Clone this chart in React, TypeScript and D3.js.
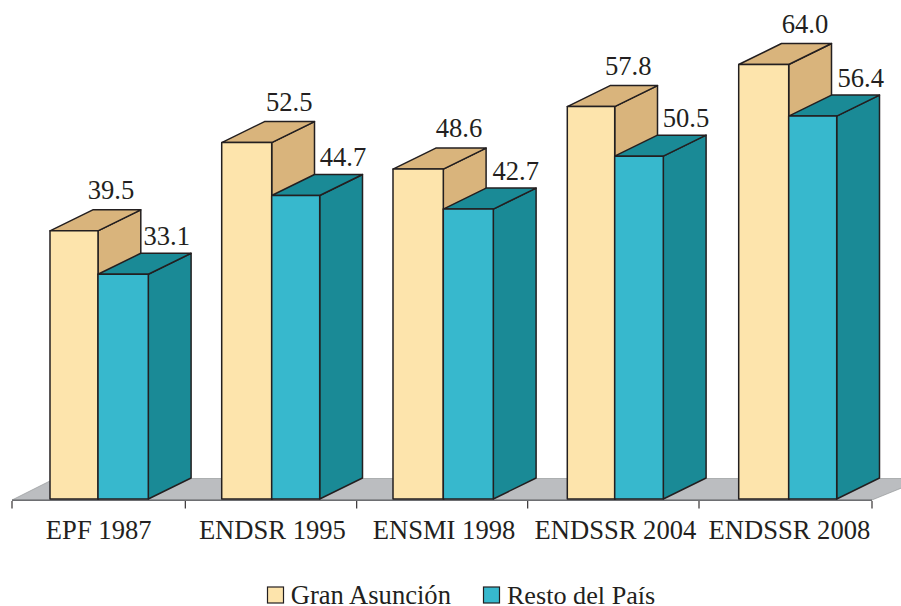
import React from "react";
import * as d3 from "d3";

const categories = ["EPF 1987", "ENDSR 1995", "ENSMI 1998", "ENDSSR 2004", "ENDSSR 2008"];
const granAsuncion = [39.5, 52.5, 48.6, 57.8, 64.0];
const restoDelPais = [33.1, 44.7, 42.7, 50.5, 56.4];
const seriesNames = ["Gran Asunción", "Resto del País"];

const INK = "#231f20";
const FONT = "'Liberation Serif', 'Times New Roman', serif";
const CREAM = { front: "#fde4ac", side: "#d9b47c" };
const TEAL = { front: "#37b8cd", side: "#1a8a96" };

const BASE_Y = 499;
const DX = 42.8;
const DY = 21;
const FONT_SIZE = 26.6;

// Per-group drawing adjustments (pixels) around the regular band layout.
const groupShift = [0, -0.3, -1, 1.3, 0.7];
const creamWidth = [48, 50, 50.3, 47.4, 50];
const blueWidth = [50.3, 48, 50, 48.6, 48];
const creamLabelDx = [13, 17.6, 15.7, 13.6, 16.3];
const blueLabelDx = [18.4, 23.3, 22.4, 22.7, 24];
const tickEdges = [12, 185.3, 356.7, 527.7, 699, 872];

const x = d3.scaleBand<string>().domain(categories).range([12, 872]);
const y = d3.scaleLinear().domain([0, 64]).range([BASE_Y, 64.5]);

type Faces = { front: string; side: string };

// One extruded bar: right face, lid, then the front rectangle.
function Box({ left, width, value, fill }: { left: number; width: number; value: number; fill: Faces }) {
  const top = y(value);
  const right = left + width;
  const line = d3.line();
  const side = line([[right, top], [right + DX, top - DY], [right + DX, BASE_Y - DY], [right, BASE_Y]]) + "Z";
  const lid = line([[left, top], [left + DX, top - DY], [right + DX, top - DY], [right, top]]) + "Z";
  return (
    <g stroke={INK} strokeWidth={1.5} strokeLinejoin="round">
      <path d={side} fill={fill.side} />
      <path d={lid} fill={fill.side} />
      <rect x={left} y={top} width={width} height={BASE_Y - top} fill={fill.front} />
    </g>
  );
}

export default function App() {
  const floor = d3.line()([[12, BASE_Y + 1], [12 + DX, BASE_Y - DY + 0.5], [925, BASE_Y - DY + 0.5], [872, BASE_Y + 1]]) + "Z";
  return (
    <svg width={901} height={606} style={{ position: "absolute", left: 0, top: 0, background: "#fff" }} fontFamily={FONT} fill={INK}>
      <path d={floor} fill="#bbbdc0" stroke="#8c8e91" strokeWidth={0.6} />
      <line x1={12} x2={872} y1={BASE_Y + 1.2} y2={BASE_Y + 1.2} stroke="#6d6e71" strokeWidth={1.4} />
      {tickEdges.map((t) => (
        <line key={t} x1={t} x2={t} y1={BASE_Y + 2} y2={BASE_Y + 9.5} stroke={INK} strokeWidth={1.1} />
      ))}
      {categories.map((c, i) => {
        const left = (x(c) as number) + 38 + groupShift[i];
        const mid = left + creamWidth[i];
        const right = mid + blueWidth[i];
        return (
          <g key={c}>
            <Box left={left} width={creamWidth[i]} value={granAsuncion[i]} fill={CREAM} />
            <Box left={mid} width={blueWidth[i]} value={restoDelPais[i]} fill={TEAL} />
            <text x={mid + creamLabelDx[i]} y={y(granAsuncion[i]) - 32} textAnchor="middle" fontSize={FONT_SIZE}>
              {granAsuncion[i].toFixed(1)}
            </text>
            <text x={right + blueLabelDx[i]} y={y(restoDelPais[i]) - 29.5} textAnchor="middle" fontSize={FONT_SIZE}>
              {restoDelPais[i].toFixed(1)}
            </text>
            <text x={mid + 0.7} y={538.5} textAnchor="middle" fontSize={FONT_SIZE}>
              {c}
            </text>
          </g>
        );
      })}
      {seriesNames.map((name, i) => {
        const sx = i === 0 ? 267.5 : 483.5;
        return (
          <g key={name}>
            <rect x={sx} y={587} width={16} height={16} fill={i === 0 ? CREAM.front : TEAL.front} stroke={INK} strokeWidth={1.2} />
            <text x={sx + (i === 0 ? 23.2 : 23.4)} y={604} fontSize={i === 0 ? FONT_SIZE : 26.2}>{name}</text>
          </g>
        );
      })}
    </svg>
  );
}
